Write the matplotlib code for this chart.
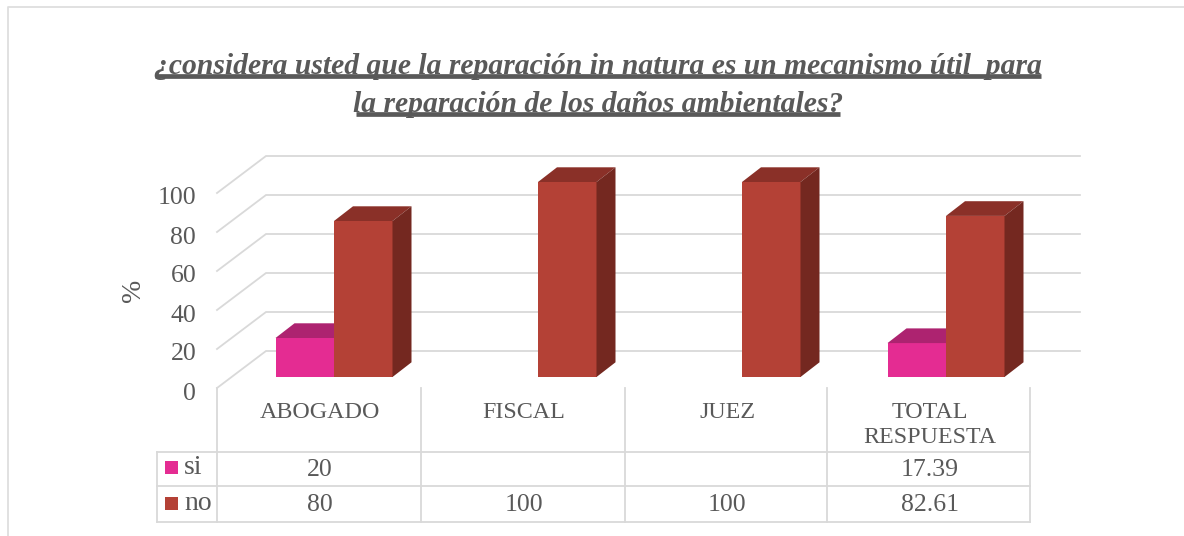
import matplotlib
matplotlib.use("Agg")
import matplotlib.pyplot as plt
from matplotlib.patches import Polygon, Rectangle
from matplotlib.transforms import ScaledTranslation

categories = ["ABOGADO", "FISCAL", "JUEZ", "TOTAL\nRESPUESTA"]
si_values = [20, None, None, 17.39]
no_values = [80, 100, 100, 82.61]
si_labels = ["20", "", "", "17.39"]
no_labels = ["80", "100", "100", "82.61"]
y_ticks = [0, 20, 40, 60, 80, 100]
title_lines = ["¿considera usted que la reparación in natura es un mecanismo útil  para",
               "la reparación de los daños ambientales?"]

W, H = 1184, 536
GRAY = "#595959"
GRID = "#D9D9D9"
SERIF = "Liberation Serif"

def px_box(left, top, right, bottom):
    return [left / W, 1 - bottom / H, (right - left) / W, (bottom - top) / H]

fig = plt.figure(figsize=(W / 100, H / 100), dpi=100)

# overlay in pixels for frame, title and table lines
bg = fig.add_axes([0, 0, 1, 1])
bg.set_xlim(0, W)
bg.set_ylim(H, 0)
bg.axis("off")
bg.plot([8, 8, W], [H, 7, 7], color="#DEDEDE", lw=1.3)

base_y = [74, 112]
under_y = [75.5, 113.5]
under_x = [(155, 1041), (356, 840)]
for line, ty, uy, ux in zip(title_lines, base_y, under_y, under_x):
    bg.text(598, ty, line, ha="center", va="baseline", fontsize=21.3, family=SERIF,
            weight="bold", style="italic", color=GRAY)
    bg.plot(ux, [uy, uy], color=GRAY, lw=3.4, solid_capstyle="butt")

# front plane of the 3d box: 0 at y=388, 100 at y=193, one category = 204 px
ax = fig.add_axes(px_box(217, 193, 1033, 388))
ax.set_xlim(0, 4)
ax.set_ylim(0, 100)
ax.patch.set_visible(False)
for s in ax.spines.values():
    s.set_visible(False)
ux = 4 / 816
uy = 100 / 195
wall_dx, wall_dy = 49 * ux, 37 * uy
off_x, off_y = 15 * ux, 11 * uy
bar_w = 58.5 * ux
bar_dx, bar_dy = 19 * ux, 14.7 * uy

ax.set_xticks([])
ax.set_yticks(y_ticks)
ax.set_yticklabels([str(t) for t in y_ticks], family=SERIF, fontsize=18.5, color=GRAY)
ax.tick_params(axis="y", length=0, pad=15)
# labels sit a little under their gridline in the original
for lab in ax.get_yticklabels():
    lab.set_transform(lab.get_transform() + ScaledTranslation(0, -3 / 100, fig.dpi_scale_trans))
ax.set_ylabel("%", family=SERIF, fontsize=20, color=GRAY, labelpad=8)

for t in y_ticks:
    ax.plot([0, wall_dx, 4 + wall_dx - 0.01], [t, t + wall_dy, t + wall_dy], color=GRID,
            lw=1.3, clip_on=False, zorder=1, solid_joinstyle="miter")

def draw_bar(x0, val, front, top, side):
    y0 = off_y
    y1 = off_y + val
    x1 = x0 + bar_w
    ax.bar(x0, val, width=bar_w, bottom=y0, align="edge", color=front, zorder=3, clip_on=False)
    ax.add_patch(Polygon([(x0, y1), (x1, y1), (x1 + bar_dx, y1 + bar_dy), (x0 + bar_dx, y1 + bar_dy)],
                         closed=True, color=top, lw=0, zorder=3, clip_on=False))
    ax.add_patch(Polygon([(x1, y0), (x1 + bar_dx, y0 + bar_dy), (x1 + bar_dx, y1 + bar_dy), (x1, y1)],
                         closed=True, color=side, lw=0, zorder=3, clip_on=False))

for i in range(len(categories)):
    mid = i + 0.5 + off_x
    if si_values[i] is not None:
        draw_bar(mid - bar_w, si_values[i], "#E42C92", "#AD2370", "#8F1D5C")
    draw_bar(mid, no_values[i], "#B44136", "#8A3028", "#742820")

# data table under the plot
cols = [217, 421, 625, 827, 1030]
rows = [452, 486, 522]
for x in cols:
    bg.plot([x, x], [388, rows[-1]], color=GRID, lw=1.3)
bg.plot([157, 157], [rows[0], rows[-1]], color=GRID, lw=1.3)
for y in rows:
    bg.plot([157, cols[-1]], [y, y], color=GRID, lw=1.3)

for i, cat in enumerate(categories):
    cx = (cols[i] + cols[i + 1]) / 2 + 1
    bg.text(cx, 412 if "\n" not in cat else 425, cat, ha="center", va="center", family=SERIF,
            fontsize=17.3, color=GRAY, linespacing=1.3)
    bg.text(cx, 470, si_labels[i], ha="center", va="center", family=SERIF, fontsize=18.5, color=GRAY)
    bg.text(cx, 505, no_labels[i], ha="center", va="center", family=SERIF, fontsize=18.5, color=GRAY)

for y, name, col in [(467.5, "si", "#E42C92"), (503.5, "no", "#B44136")]:
    bg.add_patch(Rectangle((165, y - 6.5), 13, 13, color=col, lw=0))
    bg.text(184, y + 0.5, name, ha="left", va="center", family=SERIF, fontsize=20, color=GRAY)

fig.savefig("out.png", dpi=100)
